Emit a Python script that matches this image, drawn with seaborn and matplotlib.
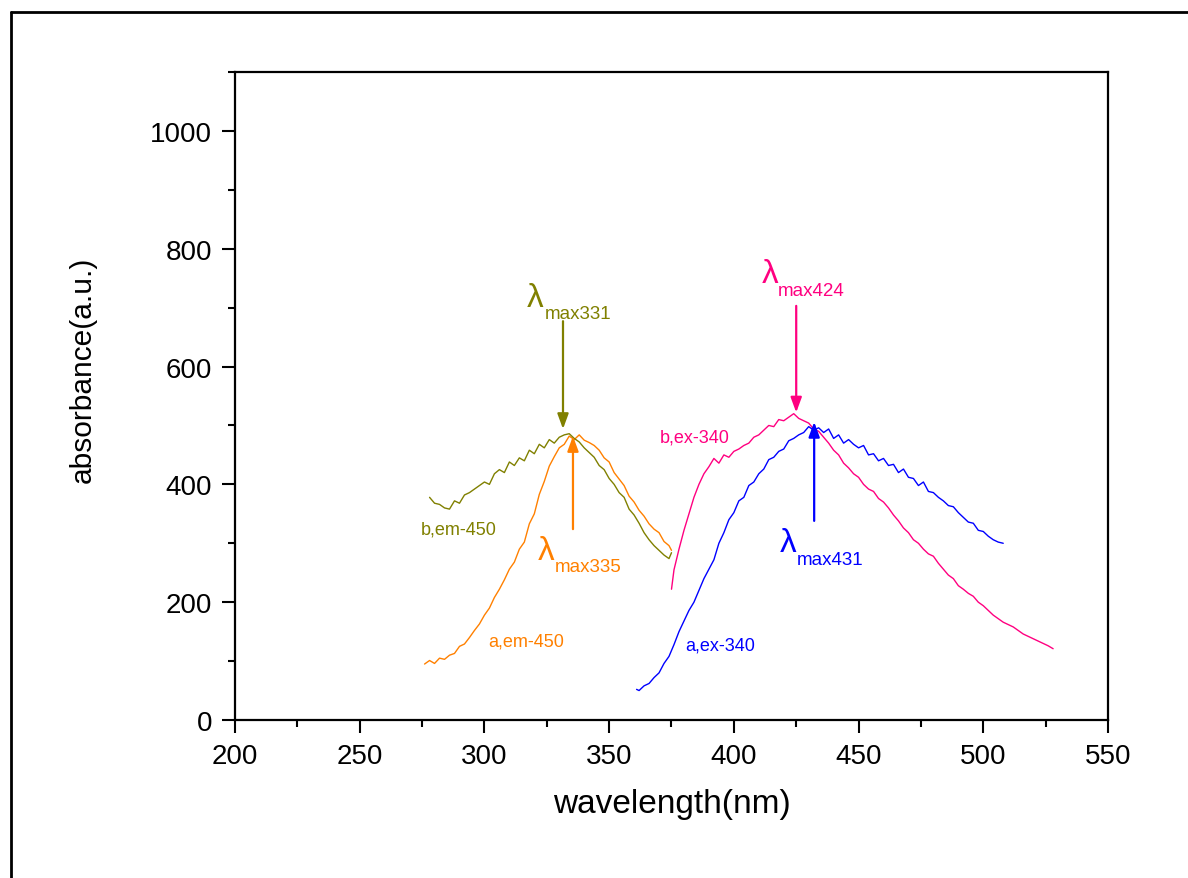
import numpy as np
import pandas as pd
import matplotlib
matplotlib.use("Agg")
import matplotlib.pyplot as plt
from matplotlib.lines import Line2D
from matplotlib.ticker import MultipleLocator
import seaborn as sns

# ---------------- data ----------------
a_em_x = [276, 278, 280, 282, 284, 286, 288, 290, 292, 294, 296, 298, 300, 302, 304,
          306, 308, 310, 312, 314, 316, 318, 320, 322, 324, 326, 328, 330, 332, 334,
          336, 338, 340, 342, 344, 346, 348, 350, 352, 354, 356, 358, 360, 362, 364,
          366, 368, 370, 372, 374, 375]
a_em_y = [95, 101, 96, 105, 103, 110, 113, 125, 129, 140, 152, 163, 178, 190, 208,
          222, 238, 256, 268, 290, 302, 333, 350, 383, 405, 431, 447, 462, 468, 482,
          476, 484, 475, 471, 466, 458, 445, 438, 420, 409, 398, 380, 370, 356, 346,
          333, 324, 318, 303, 296, 288]

b_em_x = [278, 280, 282, 284, 286, 288, 290, 292, 294, 296, 298, 300, 302, 304, 306,
          308, 310, 312, 314, 316, 318, 320, 322, 324, 326, 328, 330, 332, 334, 336,
          338, 340, 342, 344, 346, 348, 350, 352, 354, 356, 358, 360, 362, 364, 366,
          368, 370, 372, 374, 375]
b_em_y = [378, 368, 366, 360, 358, 372, 368, 382, 386, 392, 398, 404, 400, 418, 425,
          420, 438, 432, 445, 440, 458, 452, 468, 462, 476, 470, 480, 484, 486, 478,
          472, 462, 454, 446, 432, 425, 410, 400, 386, 378, 358, 348, 334, 318, 306,
          296, 288, 280, 274, 284]

b_ex_x = [375, 376, 378, 380, 382, 384, 386, 388, 390, 392, 394, 396, 398, 400, 402,
          404, 406, 408, 410, 412, 414, 416, 418, 420, 422, 424, 426, 428, 430, 432,
          434, 436, 438, 440, 442, 444, 446, 448, 450, 452, 454, 456, 458, 460, 462,
          464, 466, 468, 470, 472, 474, 476, 478, 480, 482, 484, 486, 488, 490, 492,
          494, 496, 498, 500, 502, 504, 506, 508, 510, 512, 514, 516, 518, 520, 522,
          524, 526, 528]
b_ex_y = [222, 255, 290, 322, 350, 378, 400, 418, 430, 444, 436, 450, 446, 456, 460,
          466, 470, 480, 484, 492, 500, 498, 510, 508, 514, 520, 512, 508, 504, 494,
          490, 480, 470, 458, 450, 436, 428, 418, 412, 400, 392, 388, 376, 370, 360,
          348, 338, 326, 318, 306, 300, 290, 282, 278, 266, 256, 246, 240, 228, 222,
          215, 210, 200, 194, 186, 178, 172, 166, 162, 158, 152, 146, 142, 138, 134,
          130, 126, 121]

a_ex_x = [361, 362, 364, 366, 368, 370, 372, 374, 376, 378, 380, 382, 384, 386, 388,
          390, 392, 394, 396, 398, 400, 402, 404, 406, 408, 410, 412, 414, 416, 418,
          420, 422, 424, 426, 428, 430, 432, 434, 436, 438, 440, 442, 444, 446, 448,
          450, 452, 454, 456, 458, 460, 462, 464, 466, 468, 470, 472, 474, 476, 478,
          480, 482, 484, 486, 488, 490, 492, 494, 496, 498, 500, 502, 504, 506, 508]
a_ex_y = [52, 50, 58, 62, 72, 80, 96, 108, 128, 150, 168, 186, 200, 220, 240,
          256, 272, 300, 318, 340, 352, 372, 378, 398, 404, 418, 426, 442, 446, 456,
          460, 474, 478, 484, 488, 498, 492, 496, 488, 494, 478, 484, 470, 476, 468,
          462, 466, 450, 452, 440, 444, 432, 434, 420, 426, 412, 410, 398, 404, 388,
          386, 378, 372, 364, 362, 352, 344, 336, 334, 322, 320, 312, 306, 302, 300]

series_labels = ["a,em-450", "b,em-450", "b,ex-340", "a,ex-340"]
peak_labels = ["max335", "max331", "max424", "max431"]

x_ticks = [200, 250, 300, 350, 400, 450, 500, 550]
y_ticks = [0, 200, 400, 600, 800, 1000]

# ---------------- style ----------------
sns.set_theme(style="ticks")
plt.rcParams["font.family"] = ["Liberation Sans", "DejaVu Sans"]
plt.rcParams["text.color"] = "black"
plt.rcParams["axes.labelcolor"] = "black"
plt.rcParams["xtick.color"] = "black"
plt.rcParams["ytick.color"] = "black"

OLIVE = "#808000"
ORANGE = "#FF8000"
PINK = "#FF0080"
BLUE = "#0000FF"

fig = plt.figure(figsize=(11.88, 8.79), dpi=100)
ax = fig.add_axes([235 / 1188, 1 - 721 / 879, (1108 - 235) / 1188, (721 - 73) / 879])

for xs, ys, col in [(a_em_x, a_em_y, ORANGE), (b_em_x, b_em_y, OLIVE),
                    (b_ex_x, b_ex_y, PINK), (a_ex_x, a_ex_y, BLUE)]:
    df = pd.DataFrame({"x": xs, "y": ys})
    sns.lineplot(data=df, x="x", y="y", color=col, lw=1.0, ax=ax, estimator=None)

ax.set_xlim(200, 550)
ax.set_ylim(0, 1100)
ax.set_xticks(x_ticks)
ax.set_yticks(y_ticks)
ax.xaxis.set_minor_locator(MultipleLocator(25))
ax.yaxis.set_minor_locator(MultipleLocator(100))
ax.tick_params(which="major", direction="out", length=9.5, width=1.5, labelsize=20,
               pad=7, colors="black", top=False, right=False)
ax.tick_params(which="minor", direction="out", length=5, width=1.5,
               top=False, right=False)
for s in ax.spines.values():
    s.set_linewidth(1.6)
    s.set_color("black")
    s.set_visible(True)

ax.set_xlabel("wavelength(nm)", fontsize=24, color="black")
ax.set_ylabel("absorbance(a.u.)", fontsize=21.5, color="black")
ax.xaxis.set_label_coords(0.5, -0.105)
ax.yaxis.set_label_coords(-0.158, 0.542)

# series labels
lab_fs = 13
ax.text(274.6, 317, series_labels[1], color=OLIVE, fontsize=lab_fs, va="baseline", ha="left")
ax.text(301.4, 126, series_labels[0], color=ORANGE, fontsize=lab_fs, va="baseline", ha="left")
ax.text(370.4, 472, series_labels[2], color=PINK, fontsize=lab_fs, va="baseline", ha="left")
ax.text(380.4, 119, series_labels[3], color=BLUE, fontsize=lab_fs, va="baseline", ha="left")

# lambda max annotations
lam_fs = 24
sub_fs = 13.5
for (lx, ly, sx, sy, txt, col) in [
        (317.1, 703, 324.3, 682, peak_labels[1], OLIVE),
        (321.5, 273, 328.3, 253, peak_labels[0], ORANGE),
        (411.3, 744, 417.7, 722, peak_labels[2], PINK),
        (418.5, 287, 425.3, 265, peak_labels[3], BLUE)]:
    ax.text(lx, ly, "λ", color=col, fontsize=lam_fs, va="baseline", ha="left")
    ax.text(sx, sy, txt, color=col, fontsize=sub_fs, va="baseline", ha="left")

arrow_style = "-|>,head_length=0.6,head_width=0.22"
for (x0, y0, y1, col) in [(331.5, 677, 494, OLIVE), (335.5, 324, 482, ORANGE),
                          (425.0, 703, 522, PINK), (432.2, 338, 506, BLUE)]:
    ax.annotate("", xy=(x0, y1), xytext=(x0, y0),
                arrowprops=dict(arrowstyle=arrow_style, color=col, lw=1.6,
                                mutation_scale=15, shrinkA=0, shrinkB=0))

# outer figure frame (top and left edges visible)
top_y = 1 - 12.7 / 879
left_x = 10.5 / 1188
fig.add_artist(Line2D([left_x, 1.0], [top_y, top_y], color="black", lw=2.0,
                      transform=fig.transFigure))
fig.add_artist(Line2D([left_x, left_x], [0.0, top_y], color="black", lw=2.0,
                      transform=fig.transFigure))

fig.savefig("out.png", dpi=100, facecolor="white")
